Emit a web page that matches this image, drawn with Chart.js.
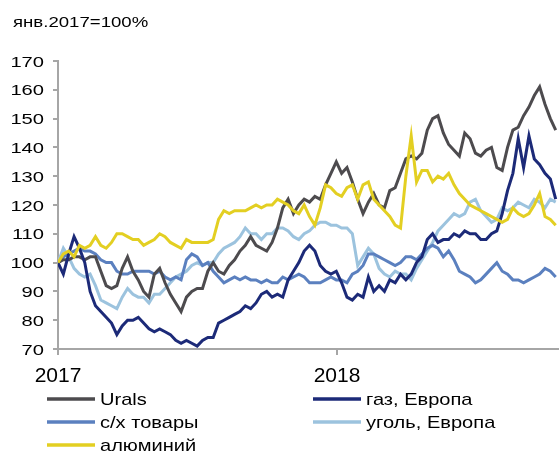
<!DOCTYPE html>
<html>
<head>
<meta charset="utf-8">
<script src="https://cdn.jsdelivr.net/npm/chart.js@4"></script>
<style>
  html, body { margin: 0; padding: 0; background: #fff; }
  canvas { display: block; }
</style>
</head>
<body>
<canvas id="chart" width="559" height="453"></canvas>
<script>
// weekly values, янв.2017 = 100
const urals = [100,101,101,102,102,101,102,102,97,92, 91,92,98,102,97,94,90,88,96,98,
  93,89,86,83,88,90,91,91,97,100, 97,96,99,101,104,106,109,106,105,104,
  107,112,119,122,117,120,122,121,123,122, 127,131,135,131,133,128,122,117,121,124,
  120,119,125,126,131,136,137,136,138,146, 150,151,145,141,139,137,145,143,138,137,
  139,140,133,132,140,146,147,151,154,158, 161,155,150,146]
const gas = [100,96,103,109,105,100,90,85,83,81, 79,75,78,80,80,81,79,77,76,77,
  76,75,73,72,73,72,71,73,74,74, 79,80,81,82,83,85,84,86,89,90,
  88,89,88,94,97,100,104,106,104,99, 97,96,97,93,88,87,89,88,95,90,
  92,90,94,93,96,94,96,100,102,108, 110,107,108,108,110,109,111,110,110,108,
  108,110,111,117,125,131,143,133,144,136, 134,131,129,122]
const agri = [100,102,103,104,105,104,104,103,101,100, 100,97,96,96,97,97,97,97,96,97,
  95,94,95,94,101,103,102,99,100,97, 95,93,94,95,94,95,94,94,93,94,
  93,93,95,94,95,96,95,93,93,93, 94,95,94,94,93,96,97,99,103,103,
  102,101,100,99,100,102,102,101,103,105, 106,105,102,104,101,97,96,95,93,94,
  96,98,100,97,96,94,94,93,94,95, 96,98,97,95]
const coal = [100,105,102,98,96,95,96,92,87,86, 85,84,88,91,89,88,88,86,89,89,
  91,93,95,96,97,99,100,99,100,100, 103,105,106,107,109,112,110,110,108,110,
  110,112,112,111,109,108,110,111,113,114, 114,113,113,112,112,110,99,102,105,103,
  98,96,95,97,96,96,94,98,101,104, 107,111,113,115,117,116,117,121,122,118,
  116,114,115,119,118,119,121,120,119,122, 121,119,122,121]
const alum = [100,103,104,102,106,105,106,109,106,105, 107,110,110,109,108,108,106,107,108,110,
  109,107,106,105,108,107,107,107,107,108, 115,118,117,118,118,118,119,120,119,120,
  120,122,121,120,118,117,120,116,113,119, 127,126,124,123,126,127,122,127,128,122,
  120,118,116,113,112,130,144,128,132,132, 128,130,129,131,127,124,122,120,119,118,
  117,116,115,114,115,119,117,116,117,120, 124,116,115,113]

const seriesNames = ['Urals', 'газ, Европа', 'с/х товары', 'уголь, Европа', 'алюминий']
const yearLabels = ['2017', '2018']
const yearStartDays = [0, 365]   // days since 1 Jan 2017
const title = 'янв.2017=100%'

// one value per week
const days = urals.map((v, i) => i * 7)
function pts(arr) { return arr.map((v, i) => ({ x: days[i], y: v })) }

const FONT = '"Liberation Sans", Arial, sans-serif'
const AXIS = '#a6a6a6'

// text in the reference is drawn a bit wide, so stretch horizontally
function stretchText(ctx, txt, x, y, size, sx, align) {
  ctx.save()
  ctx.font = size + 'px ' + FONT
  ctx.fillStyle = '#000'
  ctx.textAlign = align
  ctx.textBaseline = 'alphabetic'
  ctx.translate(x, y)
  ctx.scale(sx, 1)
  ctx.fillText(txt, 0, 0)
  ctx.restore()
}

const decor = {
  id: 'decor',
  afterDraw(chart) {
    const ctx = chart.ctx
    stretchText(ctx, title, 13, 27, 15, 1.24, 'left')

    const ys = chart.scales.y
    ys.ticks.forEach(t => {
      stretchText(ctx, String(t.value), 44, ys.getPixelForValue(t.value) + 5.6, 15.5, 1.3, 'right')
    })
    const xs = chart.scales.x
    yearStartDays.forEach((d, i) => {
      stretchText(ctx, yearLabels[i], xs.getPixelForValue(d), 382, 20, 1.05, 'center')
    })

    // legend, two columns
    chart.data.datasets.forEach((ds, k) => {
      const col = k % 2, row = Math.floor(k / 2)
      const lx = [47, 313][col]
      const ly = 399 + row * 23
      ctx.save()
      ctx.strokeStyle = ds.borderColor
      ctx.lineWidth = 3.5
      ctx.beginPath()
      ctx.moveTo(lx, ly)
      ctx.lineTo(lx + 48, ly)
      ctx.stroke()
      ctx.restore()
      stretchText(ctx, ds.label, lx + 53, ly + 6, 17, 1.18, 'left')
    })
  }
}

const colors = ['#4d4b4e', '#1c2a78', '#5b80bf', '#9cc3de', '#e3cf22']
const values = [urals, gas, agri, coal, alum]
const drawOrder = [2, 1, 3, 4, 0]

new Chart(document.getElementById('chart'), {
  type: 'line',
  data: {
    datasets: values.map((arr, k) => ({
      label: seriesNames[k],
      data: pts(arr),
      borderColor: colors[k],
      backgroundColor: colors[k],
      borderWidth: 3,
      pointRadius: 0,
      tension: 0,
      order: drawOrder[k]
    }))
  },
  options: {
    responsive: false,
    maintainAspectRatio: false,
    animation: false,
    devicePixelRatio: 1,
    layout: { padding: { top: 61, left: 0, right: 1, bottom: 64 } },
    plugins: { legend: { display: false }, tooltip: { enabled: false } },
    scales: {
      x: {
        type: 'linear',
        min: 0,
        max: 654,
        afterBuildTicks: s => { s.ticks = yearStartDays.map(v => ({ value: v })) },
        afterFit: s => { s.height = 40 },
        ticks: { display: false },
        grid: { drawOnChartArea: false, drawTicks: true, tickLength: 6, color: AXIS, lineWidth: 2 },
        border: { display: true, color: AXIS, width: 2 }
      },
      y: {
        min: 70,
        max: 170,
        afterFit: s => { s.width = 58 },
        ticks: { display: false, stepSize: 10 },
        grid: { drawOnChartArea: false, drawTicks: true, tickLength: 5, color: AXIS, lineWidth: 2 },
        border: { display: true, color: AXIS, width: 2 }
      }
    }
  },
  plugins: [decor]
});
</script>
</body>
</html>
